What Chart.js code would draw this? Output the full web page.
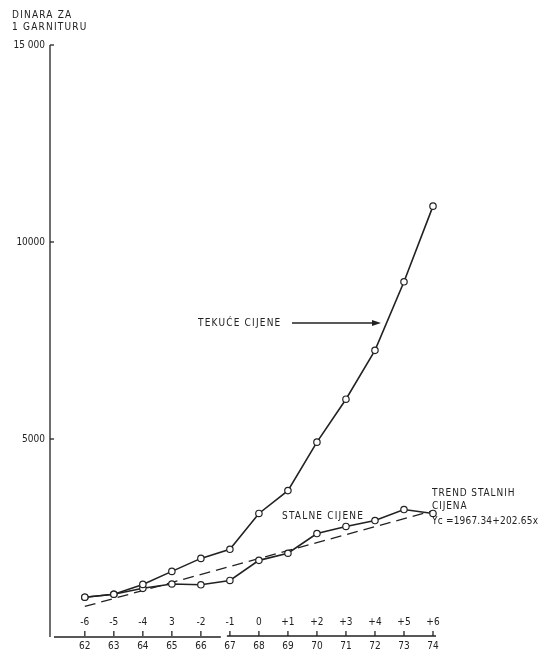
<!DOCTYPE html>
<html>
<head>
<meta charset="utf-8">
<script src="https://cdn.jsdelivr.net/npm/chart.js@4/dist/chart.umd.min.js"></script>
<style>
  html, body { margin: 0; padding: 0; background: #fff; }
  canvas { display: block; }
</style>
</head>
<body>
<canvas id="chart" width="540" height="650"></canvas>
<script>
// data
const years = [62, 63, 64, 65, 66, 67, 68, 69, 70, 71, 72, 73, 74];
const codedYears = ["-6", "-5", "-4", "3", "-2", "-1", "0", "+1", "+2", "+3", "+4", "+5", "+6"];
const tekuceCijene = [985, 1060, 1310, 1640, 1970, 2200, 3110, 3690, 4920, 6010, 7250, 8990, 10910];
const stalneCijene = [985, 1060, 1210, 1320, 1300, 1410, 1920, 2100, 2600, 2780, 2930, 3210, 3110];
const trendYears = [62, 74];
const trendValues = [750, 3180];
const yTicks = [5000, 10000, 15000];
const yTickLabels = ["5000", "10000", "15 000"];

const INK = "#222";
const FONT = '10px "DejaVu Sans Condensed", "Liberation Sans Narrow", sans-serif';

const toPoints = (xs, ys) => xs.map((x, i) => ({ x: x, y: ys[i] }));

const drawExtras = {
  id: "drawExtras",
  afterDatasetsDraw(chart) {
    const ctx = chart.ctx;
    const xs = chart.scales.x, ys = chart.scales.y;
    const y0 = ys.getPixelForValue(0);
    const left = chart.chartArea.left;
    ctx.save();
    ctx.strokeStyle = INK;
    ctx.fillStyle = INK;
    ctx.lineWidth = 1.3;
    ctx.font = FONT;

    // y axis
    ctx.beginPath();
    ctx.moveTo(left, ys.getPixelForValue(15000));
    ctx.lineTo(left, y0 + 1);
    ctx.stroke();
    ctx.textAlign = "right";
    ctx.textBaseline = "middle";
    yTicks.forEach((v, i) => {
      const py = ys.getPixelForValue(v);
      ctx.beginPath();
      ctx.moveTo(left, py);
      ctx.lineTo(left + 4, py);
      ctx.stroke();
      ctx.fillText(yTickLabels[i], left - 5, py);
    });

    // x axis, broken between 66 and 67
    const px66 = xs.getPixelForValue(66), px67 = xs.getPixelForValue(67);
    ctx.beginPath();
    ctx.moveTo(left + 4, y0 + 1);
    ctx.lineTo(px66 + 20, y0 + 1);
    ctx.moveTo(px67 - 3, y0);
    ctx.lineTo(xs.getPixelForValue(74) + 3, y0);
    ctx.stroke();
    ctx.textAlign = "center";
    years.forEach((yr, i) => {
      const px = xs.getPixelForValue(yr);
      ctx.beginPath();
      ctx.moveTo(px, y0);
      ctx.lineTo(px, y0 - 5);
      ctx.stroke();
      ctx.fillText(codedYears[i], px, y0 - 14);
      ctx.fillText(String(yr), px, y0 + 10);
    });

    // titles and annotations
    ctx.textAlign = "left";
    ctx.letterSpacing = "1.2px";
    ctx.fillText("DINARA ZA", 12, 15);
    ctx.fillText("1 GARNITURU", 12, 27);
    ctx.fillText("TEKUĆE CIJENE", 198, 323);
    ctx.fillText("STALNE CIJENE", 282, 516);
    ctx.letterSpacing = "0.9px";
    ctx.fillText("TREND STALNIH", 432, 493);
    ctx.fillText("CIJENA", 432, 506);
    ctx.letterSpacing = "0.2px";
    ctx.fillText("Yc =1967.34+202.65x", 432, 521);
    ctx.letterSpacing = "0px";

    ctx.beginPath();
    ctx.moveTo(292, 323);
    ctx.lineTo(378, 323);
    ctx.stroke();
    ctx.beginPath();
    ctx.moveTo(381, 323);
    ctx.lineTo(372, 320);
    ctx.lineTo(372, 326);
    ctx.closePath();
    ctx.fill();
    ctx.restore();
  }
};

new Chart(document.getElementById("chart").getContext("2d"), {
  type: "line",
  data: {
    datasets: [
      {
        label: "Tekuće cijene",
        data: toPoints(years, tekuceCijene),
        borderColor: INK,
        borderWidth: 1.6,
        pointRadius: 3.2,
        pointBackgroundColor: "#fff",
        pointBorderColor: INK,
        pointBorderWidth: 1.2,
        tension: 0,
        clip: false
      },
      {
        label: "Stalne cijene",
        data: toPoints(years, stalneCijene),
        borderColor: INK,
        borderWidth: 1.6,
        pointRadius: 3.2,
        pointBackgroundColor: "#fff",
        pointBorderColor: INK,
        pointBorderWidth: 1.2,
        tension: 0,
        clip: false
      },
      {
        label: "Trend stalnih cijena",
        data: toPoints(trendYears, trendValues),
        borderColor: INK,
        borderWidth: 1.3,
        borderDash: [11, 6],
        pointRadius: 0,
        tension: 0,
        clip: false
      }
    ]
  },
  options: {
    responsive: false,
    animation: false,
    layout: { padding: { left: 50, top: 45, right: 107, bottom: 14 } },
    plugins: {
      legend: { display: false },
      tooltip: { enabled: false },
      title: { display: false }
    },
    scales: {
      x: { type: "linear", min: 60.8, max: 74, display: false },
      y: { type: "linear", min: 0, max: 15000, display: false }
    }
  },
  plugins: [drawExtras]
});
</script>
</body>
</html>
